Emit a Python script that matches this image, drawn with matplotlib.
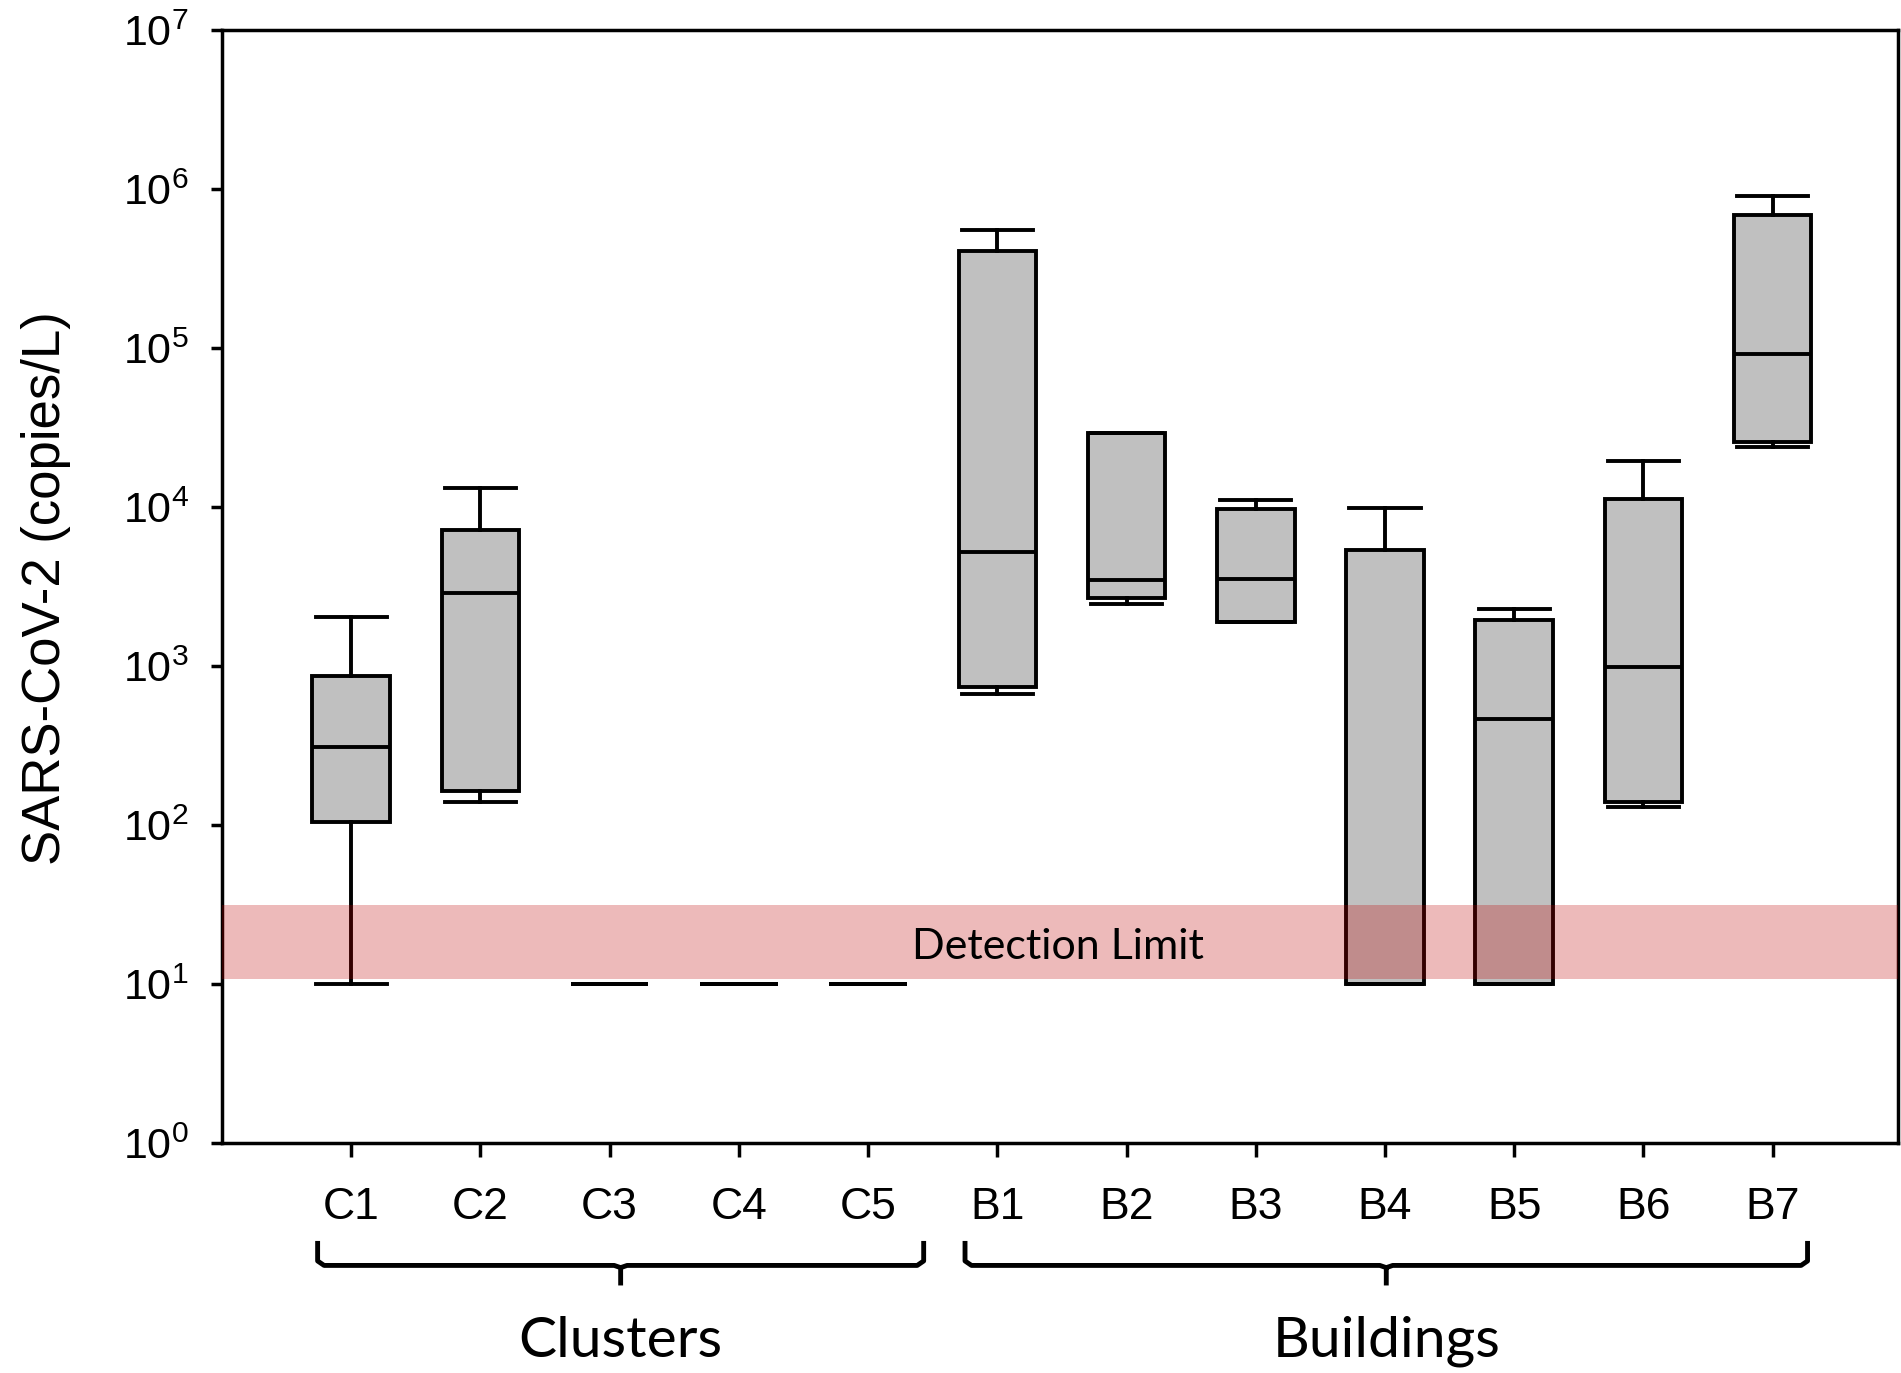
import math
import matplotlib
matplotlib.use("Agg")
import matplotlib.pyplot as plt
import matplotlib.transforms as mtransforms
from matplotlib.path import Path
from matplotlib.patches import PathPatch, Rectangle
from matplotlib.ticker import FixedLocator, NullLocator, FuncFormatter

# ---------------- data ----------------
categories = ["C1", "C2", "C3", "C4", "C5", "B1", "B2", "B3", "B4", "B5", "B6", "B7"]
whisker_low = [10, 140, 10, 10, 10, 667, 2450, 1880, 10, 10, 130, 23700]
q1_values = [105, 164, 10, 10, 10, 742, 2670, 1880, 10, 10, 140, 25800]
medians = [308, 2870, 10, 10, 10, 5220, 3480, 3550, 10, 462, 982, 91600]
q3_values = [869, 7160, 10, 10, 10, 408000, 29200, 9660, 5400, 1950, 11300, 691000]
whisker_high = [2020, 13250, 10, 10, 10, 550000, 29200, 11100, 9820, 2290, 19500, 900000]
detection_low, detection_high = 10.7, 31.4
group_names = ["Clusters", "Buildings"]
group_members = [["C1", "C2", "C3", "C4", "C5"], ["B1", "B2", "B3", "B4", "B5", "B6", "B7"]]
y_label = "SARS-CoV-2 (copies/L)"

plt.rcParams["mathtext.fontset"] = "custom"
plt.rcParams["mathtext.rm"] = "Liberation Sans"

W, H = 1901, 1373
fig = plt.figure(figsize=(W / 100, H / 100), dpi=100)
left, right, top, bottom = 222, 1898, 30, 1143
ax = fig.add_axes([left / W, 1 - bottom / H, (right - left) / W, (bottom - top) / H])

positions = list(range(len(categories)))
stats = []
for i, c in enumerate(categories):
    stats.append(dict(label=c, whislo=whisker_low[i], q1=q1_values[i], med=medians[i],
                      q3=q3_values[i], whishi=whisker_high[i]))

lw = 2.8
ax.bxp(stats, positions=positions, widths=0.6, showfliers=False, patch_artist=True,
       boxprops=dict(facecolor="#C0C0C0", edgecolor="black", linewidth=lw),
       medianprops=dict(color="black", linewidth=lw),
       whiskerprops=dict(color="black", linewidth=lw),
       capprops=dict(color="black", linewidth=lw), capwidths=0.55, zorder=2)

ax.set_yscale("log")
ax.set_ylim(1, 1e7)
ax.set_xlim(-1.0, 11.97)

# detection band
trans_band = mtransforms.blended_transform_factory(ax.transAxes, ax.transData)
ax.add_patch(Rectangle((0, detection_low), 1, detection_high - detection_low,
                       transform=trans_band, facecolor="#C00000", alpha=0.27,
                       edgecolor="none", zorder=3))
ax.text(5.47, 17.0, "Detection Limit",
        ha="center", va="center", fontsize=31, family="Lato", zorder=4)

# axes styling
for s in ax.spines.values():
    s.set_linewidth(2.5)
ax.yaxis.set_major_locator(FixedLocator([10 ** k for k in range(8)]))
ax.yaxis.set_minor_locator(NullLocator())
ax.yaxis.set_major_formatter(FuncFormatter(
    lambda v, p: r"$\mathregular{10^{%d}}$" % round(math.log10(v))))
ax.set_xticks(positions)
ax.set_xticklabels(categories)
ax.tick_params(axis="y", direction="out", length=8, width=2.5, pad=16,
               labelsize=31)
ax.tick_params(axis="x", direction="out", length=10, width=2.5, pad=22,
               labelsize=32)
for lab in ax.get_xticklabels() + ax.get_yticklabels():
    lab.set_family("Liberation Sans")

fig.text(46 / W, 1 - 588 / H, y_label, rotation=90, ha="center", va="center",
         fontsize=38, family="Liberation Sans")

# group brackets (extent in category units relative to first/last member)
bracket_pad = [(0.26, 0.43), (0.25, 0.27)]
tb = mtransforms.blended_transform_factory(ax.transData, ax.transAxes)
y_end, y_bar, y_spike = -0.088, -0.110, -0.128
for name, members, (pl, pr) in zip(group_names, group_members, bracket_pad):
    i0 = categories.index(members[0])
    i1 = categories.index(members[-1])
    x0, x1 = i0 - pl, i1 + pr
    xc = (x0 + x1) / 2
    verts = [(x0, y_end), (x0, y_bar + 0.004), (x0 + 0.05, y_bar), (xc - 0.05, y_bar),
             (xc, y_bar - 0.002), (xc, y_spike),
             (xc, y_bar - 0.002), (xc + 0.05, y_bar), (x1 - 0.05, y_bar),
             (x1, y_bar + 0.004), (x1, y_end)]
    codes = [Path.MOVETO, Path.LINETO, Path.LINETO, Path.LINETO, Path.LINETO, Path.LINETO,
             Path.MOVETO, Path.LINETO, Path.LINETO, Path.LINETO, Path.LINETO]
    ax.add_patch(PathPatch(Path(verts, codes), transform=tb, clip_on=False,
                           facecolor="none", edgecolor="black", linewidth=3.5,
                           capstyle="butt", joinstyle="round"))
    ax.text(xc, -0.178, name, transform=tb, ha="center", va="center",
            fontsize=41, family="Lato")

fig.savefig("out.png", dpi=100)
